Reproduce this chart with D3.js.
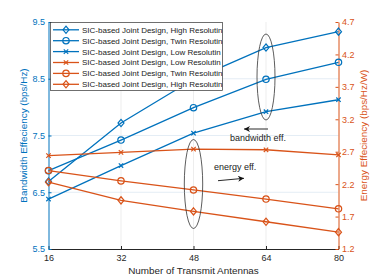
<!DOCTYPE html>
<html>
<head>
<meta charset="utf-8">
<script src="https://cdn.jsdelivr.net/npm/d3@7"></script>
<style>
  body { margin: 0; background: #fff; }
  text { font-family: "Liberation Sans", Arial, sans-serif; }
</style>
</head>
<body>
<div id="chart"></div>
<script>
// data
const antennas = [16, 32, 48, 64, 80];
const bwHigh = [6.69, 7.72, 8.49, 9.05, 9.33];
const bwTwin = [6.88, 7.42, 7.99, 8.49, 8.79];
const bwLow = [6.38, 6.97, 7.54, 7.92, 8.13];
const eeLow = [2.64, 2.69, 2.74, 2.73, 2.65];
const eeTwin = [2.41, 2.25, 2.11, 1.97, 1.82];
const eeHigh = [2.23, 1.95, 1.78, 1.62, 1.46];
const leftTicks = [5.5, 6.5, 7.5, 8.5, 9.5];
const rightTicks = [1.2, 1.7, 2.2, 2.7, 3.2, 3.7, 4.2, 4.7];
const legendLabels = [
    "SIC-based Joint Design, High Resolutin",
    "SIC-based Joint Design, Twin Resolutin",
    "SIC-based Joint Design, Low Resolutin",
    "SIC-based Joint Design, Low Resolutin",
    "SIC-based Joint Design, Twin Resolutin",
    "SIC-based Joint Design, High Resolutin"
];

const width = 374, height = 280;
const blue = "#0072BD", orange = "#D95319";
const margin = { left: 48.5, right: 35.5, top: 22, bottom: 31 };

const svg = d3.select("#chart").append("svg")
    .attr("width", width)
    .attr("height", height);

var x = d3.scaleLinear().domain([16, 80]).range([margin.left, width - margin.right]);
var yL = d3.scaleLinear().domain([5.5, 9.5]).range([height - margin.bottom, margin.top]);
var yR = d3.scaleLinear().domain([1.2, 4.7]).range([height - margin.bottom, margin.top]);

// grid
svg.append("g").selectAll("line")
    .data(antennas.slice(1, -1)).enter().append("line")
    .attr("x1", d => x(d)).attr("x2", d => x(d))
    .attr("y1", margin.top).attr("y2", height - margin.bottom)
    .attr("stroke", "#e8e8e8").attr("stroke-width", 0.8);
svg.append("g").selectAll("line")
    .data(leftTicks.slice(1, -1)).enter().append("line")
    .attr("x1", margin.left).attr("x2", width - margin.right)
    .attr("y1", d => yL(d)).attr("y2", d => yL(d))
    .attr("stroke", "#dde9f3").attr("stroke-width", 0.8);

// axes
const xAxis = svg.append("g")
    .attr("transform", "translate(0," + (height - margin.bottom) + ")")
    .call(d3.axisBottom(x).tickValues(antennas).tickSizeInner(-3).tickSizeOuter(0).tickPadding(6));
xAxis.select(".domain").attr("stroke", "#262626");
xAxis.selectAll(".tick line").attr("stroke", "#262626");
xAxis.selectAll("text").attr("font-size", 9).attr("fill", "#262626").attr("font-family", "Liberation Sans, Arial, sans-serif");

const leftAxis = svg.append("g")
    .attr("transform", "translate(" + margin.left + ",0)")
    .call(d3.axisLeft(yL).tickValues(leftTicks).tickFormat(d3.format(".1f")).tickSizeInner(-3).tickSizeOuter(0).tickPadding(3.5));
leftAxis.select(".domain").attr("stroke", blue);
leftAxis.selectAll(".tick line").attr("stroke", blue);
leftAxis.selectAll("text").attr("font-size", 9).attr("fill", blue).attr("font-family", "Liberation Sans, Arial, sans-serif");

const rightAxis = svg.append("g")
    .attr("transform", "translate(" + (width - margin.right) + ",0)")
    .call(d3.axisRight(yR).tickValues(rightTicks).tickFormat(d3.format(".1f")).tickSizeInner(-3).tickSizeOuter(0).tickPadding(3.5));
rightAxis.select(".domain").attr("stroke", orange);
rightAxis.selectAll(".tick line").attr("stroke", orange);
rightAxis.selectAll("text").attr("font-size", 9).attr("fill", orange).attr("font-family", "Liberation Sans, Arial, sans-serif");

// axis labels
svg.append("text")
    .attr("x", (margin.left + width - margin.right) / 2).attr("y", 274)
    .attr("text-anchor", "middle").attr("font-size", 9.9).attr("fill", "#262626")
    .text("Number of Transmit Antennas");
svg.append("text")
    .attr("transform", "translate(26.5," + (margin.top + height - margin.bottom) / 2 + ") rotate(-90)")
    .attr("text-anchor", "middle").attr("font-size", 9.9).attr("fill", blue)
    .text("Bandwidth Effeciency (bps/Hz)");
svg.append("text")
    .attr("transform", "translate(367," + (margin.top + height - margin.bottom) / 2 + ") rotate(-90)")
    .attr("text-anchor", "middle").attr("font-size", 9.9).attr("fill", orange)
    .text("Energy Effeciency (bps/Hz/W)");

// markers
function drawMarker(g, type, color) {
    if (type == "diamond") {
        g.append("path").attr("d", "M0,-3.6L3,0L0,3.6L-3,0Z")
            .attr("fill", "none").attr("stroke", color).attr("stroke-width", 1.2);
    } else if (type == "circle") {
        g.append("circle").attr("r", 3.2)
            .attr("fill", "none").attr("stroke", color).attr("stroke-width", 1.2);
    } else {
        g.append("path").attr("d", "M-2.2,-2.2L2.2,2.2M-2.2,2.2L2.2,-2.2")
            .attr("stroke", color).attr("stroke-width", 1.2);
    }
}

const series = [
    { vals: bwHigh, y: yL, color: blue, marker: "diamond" },
    { vals: bwTwin, y: yL, color: blue, marker: "circle" },
    { vals: bwLow, y: yL, color: blue, marker: "x" },
    { vals: eeLow, y: yR, color: orange, marker: "x" },
    { vals: eeTwin, y: yR, color: orange, marker: "circle" },
    { vals: eeHigh, y: yR, color: orange, marker: "diamond" }
];

series.forEach(function (s) {
    var line = d3.line().x((d, i) => x(antennas[i])).y(d => s.y(d));
    svg.append("path")
        .attr("d", line(s.vals))
        .attr("fill", "none").attr("stroke", s.color).attr("stroke-width", 1.3);
    s.vals.forEach(function (v, i) {
        var g = svg.append("g").attr("transform", "translate(" + x(antennas[i]) + "," + s.y(v) + ")");
        drawMarker(g, s.marker, s.color);
    });
});

// ellipses + annotations
svg.append("ellipse")
    .attr("cx", x(64)).attr("cy", 77).attr("rx", 9).attr("ry", 43)
    .attr("fill", "none").attr("stroke", "#333").attr("stroke-width", 0.8);
svg.append("ellipse")
    .attr("cx", x(48)).attr("cy", 184).attr("rx", 9.2).attr("ry", 44.5)
    .attr("fill", "none").attr("stroke", "#333").attr("stroke-width", 0.8);

svg.append("defs").append("marker")
    .attr("id", "arrow").attr("viewBox", "0 -5 10 10")
    .attr("refX", 10).attr("refY", 0)
    .attr("markerWidth", 8).attr("markerHeight", 6)
    .attr("markerUnits", "userSpaceOnUse")
    .attr("orient", "auto")
    .append("path").attr("d", "M0,-5L10,0L0,5L3,0Z").attr("fill", "#111");

svg.append("line")
    .attr("x1", 268).attr("y1", 129).attr("x2", 244).attr("y2", 129)
    .attr("stroke", "#111").attr("stroke-width", 0.9).attr("marker-end", "url(#arrow)");
svg.append("text").attr("x", 230).attr("y", 141)
    .attr("font-size", 9).attr("fill", "#222").text("bandwidth eff.");

svg.append("line")
    .attr("x1", 218).attr("y1", 180.7).attr("x2", 244).attr("y2", 178.3)
    .attr("stroke", "#111").attr("stroke-width", 0.9).attr("marker-end", "url(#arrow)");
svg.append("text").attr("x", 214).attr("y", 170)
    .attr("font-size", 9).attr("fill", "#222").text("energy eff.");

// legend
const legend = svg.append("g");
legend.append("rect")
    .attr("x", 50.5).attr("y", 22.5).attr("width", 172).attr("height", 68)
    .attr("fill", "#fff").attr("stroke", "#333").attr("stroke-width", 0.7);
series.forEach(function (s, i) {
    var ly = 29.8 + i * 10.9;
    legend.append("line")
        .attr("x1", 53).attr("x2", 79).attr("y1", ly).attr("y2", ly)
        .attr("stroke", s.color).attr("stroke-width", 1.3);
    drawMarker(legend.append("g").attr("transform", "translate(66," + ly + ")"), s.marker, s.color);
    legend.append("text")
        .attr("x", 82).attr("y", ly + 2.9)
        .attr("font-size", 8).attr("fill", "#222")
        .text(legendLabels[i]);
});
</script>
</body>
</html>
